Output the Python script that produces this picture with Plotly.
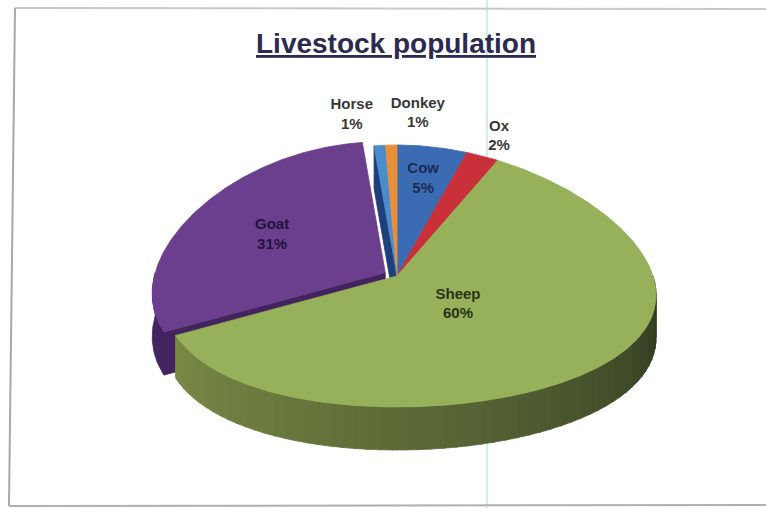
import numpy as np
import plotly.graph_objects as go

# ---- data ----
categories = ["Cow", "Ox", "Sheep", "Goat", "Horse", "Donkey"]
values = [5.4, 2.4, 59.7, 30.7, 0.9, 0.9]
title_text = "Livestock population"

# ---- style ----
top_colors = ["#3b6cb3", "#c9303a", "#97b05a", "#6c3f8e", "#4a8ccc", "#e88f3a"]
wall_colors = ["#234a85", "#8a1f27", None, "#43245f", "#1f3f7a", "#a85f20"]
sheep_wall_light = np.array([0x7a, 0x8b, 0x46])
sheep_wall_dark = np.array([0x28, 0x31, 0x1d])
label_colors = ["#1d2a55", "#383838", "#2a3316", "#22143a", "#383838", "#383838"]
explode = [0, 0, 0, 0.055, 0, 0]
label_r = [0.75, 1.16, 0.31, 0.6, 1.23, 1.24]
label_dx = [0, 3, 0, 0, -24, 28]

W, H = 766, 508

CX, CY = 397.0, 276.0
RX_R, RX_L = 256.0, 230.0
RY = 131.0
K = 0.16
DEPTH = 43.0
A = (RX_R + RX_L) / 2
B = (RX_R - RX_L) / 2


def proj(theta, r, z, off):
    t = np.radians(theta)
    s, c = np.sin(t), np.cos(t)
    rx = A + B * s
    x = CX + off[0] + r * s * rx * (1 - K * c)
    y = CY + off[1] - r * c * RY + z * DEPTH
    return x, y


total = sum(values)
angles = np.cumsum([0] + [v / total * 360 for v in values])
offsets = []
for i in range(len(values)):
    mid = np.radians((angles[i] + angles[i + 1]) / 2)
    offsets.append((explode[i] * np.sin(mid) * A, -explode[i] * np.cos(mid) * RY))

fig = go.Figure()


def poly(xs, ys, color):
    xs = list(xs) + [xs[0]]
    ys = list(ys) + [ys[0]]
    fig.add_trace(go.Scatter(x=xs, y=ys, mode="lines", fill="toself", fillcolor=color,
                             line=dict(color=color, width=0.8), hoverinfo="skip",
                             showlegend=False))


def top_face(i):
    th = np.linspace(angles[i], angles[i + 1], max(4, int((angles[i + 1] - angles[i]) * 2)))
    x, y = proj(th, 1, 0, offsets[i])
    x0, y0 = proj(0, 0, 0, offsets[i])
    poly([x0] + list(x), [y0] + list(y), top_colors[i])


def cut_face(i, theta):
    o = offsets[i]
    p = [proj(theta, 0, 0, o), proj(theta, 1, 0, o), proj(theta, 1, 1, o), proj(theta, 0, 1, o)]
    poly([q[0] for q in p], [q[1] for q in p], wall_colors[i])


def wall(i, shaded=False):
    a0 = max(angles[i], 90)
    a1 = min(angles[i + 1], 270)
    if a1 <= a0:
        return
    o = offsets[i]
    if not shaded:
        th = np.linspace(a0, a1, 40)
        xt, yt = proj(th, 1, 0, o)
        xb, yb = proj(th[::-1], 1, 1, o)
        poly(list(xt) + list(xb), list(yt) + list(yb), wall_colors[i])
        return
    edges = np.linspace(a0, a1, 60)
    for j in range(len(edges) - 1):
        th = np.linspace(edges[j], edges[j + 1] + 0.3, 4)
        f = (edges[j] - a0) / (a1 - a0)
        f = f ** 0.8
        col = sheep_wall_dark + (sheep_wall_light - sheep_wall_dark) * f
        color = "rgb(%d,%d,%d)" % tuple(col.astype(int))
        xt, yt = proj(th, 1, 0, o)
        xb, yb = proj(th[::-1], 1, 1, o)
        poly(list(xt) + list(xb), list(yt) + list(yb), color)


gi = categories.index("Goat")
si = categories.index("Sheep")
hi = categories.index("Horse")

# exploded goat first (it sits behind)
cut_face(gi, angles[gi])
wall(gi)
top_face(gi)
# rest of pie
cut_face(hi, angles[hi])
wall(si, shaded=True)
for i in range(len(values)):
    if i != gi:
        top_face(i)

# labels
pcts = [round(v / total * 100) for v in values]
for i in range(len(values)):
    mid = (angles[i] + angles[i + 1]) / 2
    x, y = proj(mid, label_r[i], 0, offsets[i])
    fig.add_trace(go.Scatter(
        x=[x + label_dx[i]], y=[y], mode="text",
        text=["<b>%s</b><br><b>%d%%</b>" % (categories[i], pcts[i])],
        textposition="middle center",
        textfont=dict(family="Liberation Sans, Arial, sans-serif", size=15, color=label_colors[i]),
        hoverinfo="skip", showlegend=False))

fig.update_layout(
    width=W, height=H, autosize=False,
    margin=dict(l=0, r=0, t=0, b=0),
    paper_bgcolor="white", plot_bgcolor="white",
    xaxis=dict(range=[0, W], visible=False, fixedrange=True),
    yaxis=dict(range=[H, 0], visible=False, fixedrange=True),
    shapes=[
        dict(type="line", xref="x", yref="y", x0=487, x1=487, y0=0, y1=H,
             line=dict(color="#cfeeee", width=2), layer="below"),
        dict(type="line", xref="x", yref="y", x0=15, x1=9, y0=8, y1=506,
             line=dict(color="#a8a8a8", width=2), layer="below"),
        dict(type="line", xref="x", yref="y", x0=15, x1=W, y0=8, y1=9,
             line=dict(color="#c8c8c8", width=2), layer="below"),
        dict(type="line", xref="x", yref="y", x0=9, x1=W, y0=506, y1=505,
             line=dict(color="#b0b0b0", width=2), layer="below"),
    ],
    annotations=[dict(
        text="<b><u>%s</u></b>" % title_text, x=396, y=43, xref="x", yref="y",
        showarrow=False, font=dict(family="Liberation Sans, Arial, sans-serif", size=28, color="#2c2a50"),
        xanchor="center", yanchor="middle")],
)

fig.write_html("out.html", config={"displayModeBar": False},
               post_script="document.body.style.margin='0px';document.body.style.overflow='hidden';")
